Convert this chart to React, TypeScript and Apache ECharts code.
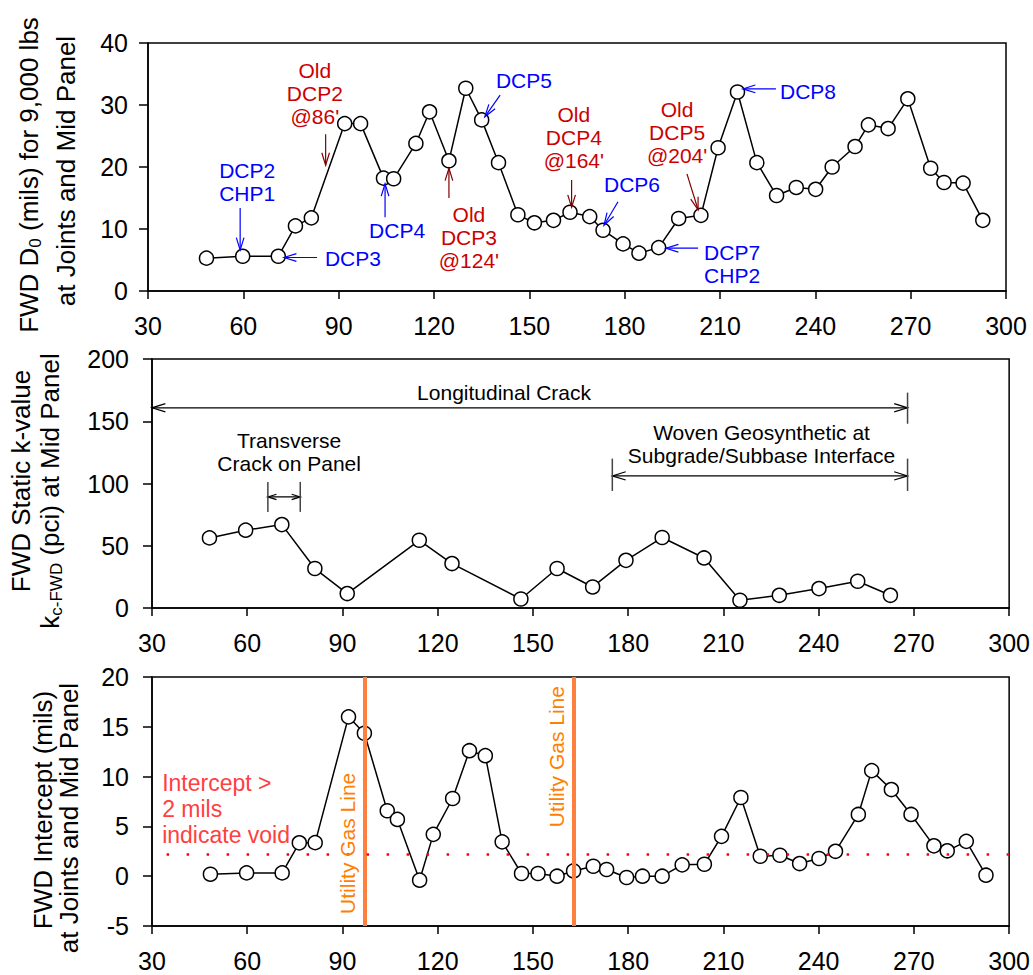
import React, { useEffect, useRef } from "react";
import * as echarts from "echarts";

const FONT = 'Arial, "Liberation Sans", sans-serif';
const RED = "#cc0000";
const DARKRED = "#800000";
const BLUE = "#0000ff";
const ORANGE_LINE = "#ff7f3f";
const ORANGE_TEXT = "#ff8000";
const VOID_RED = "#ff4040";

// Stations (ft) for D0 and intercept panels
const stations = [48.4, 59.8, 71, 76.4, 81.4, 91.9, 96.9, 104.1, 107.3, 114.3, 118.6, 124.7, 130, 135, 140.3, 146.4, 151.6, 157.6, 162.8, 169, 173.2, 179.5, 184.5, 190.7, 197, 204, 209.4, 215.5, 221.6, 227.8, 234, 240.1, 245.3, 252.5, 256.7, 262.9, 269.1, 276.3, 280.5, 286.5, 292.7];
const d0Values = [5.3, 5.6, 5.6, 10.5, 11.8, 27.0, 27.0, 18.2, 18.1, 23.8, 28.9, 21.0, 32.7, 27.6, 20.7, 12.3, 11.0, 11.4, 12.7, 12.0, 9.8, 7.6, 6.1, 7.0, 11.7, 12.2, 23.1, 32.1, 20.7, 15.4, 16.7, 16.4, 20.0, 23.3, 26.8, 26.2, 31.0, 19.8, 17.5, 17.4, 11.4];
const interceptValues = [0.2, 0.33, 0.33, 3.35, 3.37, 16.0, 14.35, 6.57, 5.7, -0.4, 4.2, 7.8, 12.6, 12.1, 3.45, 0.27, 0.27, 0.0, 0.53, 1.0, 0.67, -0.13, 0.0, 0.0, 1.14, 1.2, 4.0, 7.9, 2.0, 2.1, 1.27, 1.78, 2.5, 6.2, 10.6, 8.7, 6.2, 3.05, 2.55, 3.5, 0.1];

// Mid-panel stations and k-values
const kStations = [48.1, 59.5, 70.9, 81.3, 91.5, 114.2, 124.5, 146.2, 157.6, 168.8, 179.3, 190.7, 203.9, 215.2, 227.6, 240.1, 252.3, 262.6];
const kValues = [56.3, 62.5, 67.0, 31.7, 11.6, 54.4, 35.7, 7.2, 31.7, 16.9, 38.3, 56.6, 40.2, 6.2, 10.2, 15.6, 21.5, 10.2];

// Axis ranges
const xRange = [30, 300, 30];
const d0Range = [0, 40, 10];
const kRange = [0, 200, 50];
const interceptRange = [-5, 20, 5];

// Reference features (bottom panel)
const gasLines = [97, 163];
const voidThreshold = 2.2;

// Annotations (data coordinates)
const topTexts = [
  { text: "Old\nDCP2\n@86'", x: 82.5, y: 31.9, color: RED },
  { text: "DCP2\nCHP1", x: 61.2, y: 17.6, color: BLUE },
  { text: "DCP3", x: 94.5, y: 5.2, color: BLUE },
  { text: "DCP4", x: 108.4, y: 9.7, color: BLUE },
  { text: "Old\nDCP3\n@124'", x: 131, y: 8.7, color: RED },
  { text: "DCP5", x: 148.3, y: 34.0, color: BLUE },
  { text: "Old\nDCP4\n@164'", x: 164.0, y: 24.8, color: RED },
  { text: "DCP6", x: 182.3, y: 17.1, color: BLUE },
  { text: "Old\nDCP5\n@204'", x: 196.5, y: 25.6, color: RED },
  { text: "DCP7\nCHP2", x: 213.8, y: 4.4, color: BLUE },
  { text: "DCP8", x: 237.7, y: 32.1, color: BLUE },
];
const topArrows = [
  { x1: 85.9, y1: 25.3, x2: 85.9, y2: 20.3, color: DARKRED },
  { x1: 59.0, y1: 13.4, x2: 59.0, y2: 6.6, color: BLUE },
  { x1: 83.2, y1: 5.4, x2: 72.8, y2: 5.4, color: BLUE },
  { x1: 104.6, y1: 11.9, x2: 104.6, y2: 17.3, color: BLUE },
  { x1: 124.7, y1: 15.0, x2: 124.7, y2: 19.8, color: DARKRED },
  { x1: 140.8, y1: 31.6, x2: 136.0, y2: 28.1, color: BLUE },
  { x1: 163.3, y1: 17.9, x2: 163.3, y2: 13.5, color: DARKRED },
  { x1: 177.9, y1: 14.4, x2: 173.5, y2: 10.6, color: BLUE },
  { x1: 199.6, y1: 18.9, x2: 203.1, y2: 13.1, color: DARKRED },
  { x1: 203.1, y1: 6.9, x2: 193.0, y2: 6.9, color: BLUE },
  { x1: 227.6, y1: 32.6, x2: 217.2, y2: 32.6, color: BLUE },
];
const midTexts = [
  { text: "Longitudinal Crack", x: 140.9, y: 173.4 },
  { text: "Woven Geosynthetic at\nSubgrade/Subbase Interface", x: 222, y: 131.4 },
  { text: "Transverse\nCrack on Panel", x: 73.2, y: 125.6 },
];
const midSpans = [
  { x1: 30, x2: 268, y: 160.8, barTop: 173, barBottom: 148, bars: [268], head: 14 },
  { x1: 175, x2: 268, y: 106.1, barTop: 120, barBottom: 94, bars: [175, 268], head: 14 },
  { x1: 66.5, x2: 76.7, y: 89.2, barTop: 101.3, barBottom: 77.2, bars: [66.5, 76.7], head: 9 },
];
const bottomTexts = [
  { text: "Intercept >\n2 mils\nindicate void", x: 33.2, y: 6.74 },
];
const gasLabels = [
  { x: 91.6, y: 3.3 },
  { x: 157.3, y: 12.0 },
];

function xAxisFor(gridIndex: number) {
  return {
    type: "value",
    gridIndex,
    min: xRange[0],
    max: xRange[1],
    interval: xRange[2],
    axisLine: { onZero: false, lineStyle: { color: "#000", width: 1.5 } },
    axisTick: { inside: false, length: 8, lineStyle: { color: "#000", width: 1.5 } },
    axisLabel: { color: "#000", fontSize: 25, fontFamily: FONT, margin: 22 },
    splitLine: { show: false },
  };
}
function yAxisFor(gridIndex: number, r: number[], margin: number) {
  return {
    type: "value",
    gridIndex,
    min: r[0],
    max: r[1],
    interval: r[2],
    axisLine: { onZero: false, lineStyle: { color: "#000", width: 1.5 } },
    axisTick: { inside: false, length: 9, lineStyle: { color: "#000", width: 1.5 } },
    axisLabel: { color: "#000", fontSize: 25, fontFamily: FONT, margin },
    splitLine: { show: false },
  };
}
function lineSeries(i: number, xs: number[], ys: number[], extra: any = {}) {
  return {
    type: "line",
    xAxisIndex: i,
    yAxisIndex: i,
    data: xs.map((x, k) => [x, ys[k]]),
    symbol: "circle",
    symbolSize: 14,
    showSymbol: true,
    lineStyle: { color: "#000", width: 1.5 },
    itemStyle: { color: "#fff", borderColor: "#000", borderWidth: 1.5 },
    silent: true,
    z: 3,
    ...extra,
  };
}

export default function App() {
  const ref = useRef<HTMLDivElement>(null);
  useEffect(() => {
    document.body.style.margin = "0";
    const chart = echarts.init(ref.current!, null, { renderer: "svg" });
    const gridStyle = { show: true, borderColor: "#000", borderWidth: 1.5, containLabel: false };
    const option: any = {
      animation: false,
      backgroundColor: "#fff",
      grid: [
        { ...gridStyle, left: 148, top: 43, width: 858, height: 248 },
        { ...gridStyle, left: 152, top: 359, width: 858, height: 249 },
        { ...gridStyle, left: 152, top: 677, width: 860, height: 249 },
      ],
      xAxis: [xAxisFor(0), xAxisFor(1), xAxisFor(2)],
      yAxis: [yAxisFor(0, d0Range, 20), yAxisFor(1, kRange, 23), yAxisFor(2, interceptRange, 23)],
      series: [
        lineSeries(0, stations, d0Values),
        lineSeries(1, kStations, kValues),
        lineSeries(2, stations, interceptValues, {
          markLine: {
            silent: true,
            symbol: ["none", "none"],
            label: { show: false },
            animation: false,
            z: 4,
            data: [
              ...gasLines.map((g) => ({ xAxis: g, lineStyle: { color: ORANGE_LINE, width: 4, type: "solid" } })),
              [
                { coord: [34.6, voidThreshold], lineStyle: { color: "#ff0000", width: 2.5, type: [2.5, 17.5] } },
                { coord: [xRange[1], voidThreshold] },
              ],
            ],
          },
        }),
      ],
    };
    chart.setOption(option);

    const px = (g: number, x: number, y: number) => chart.convertToPixel({ gridIndex: g } as any, [x, y]) as number[];
    const els: any[] = [];
    const arrowHead = (tip: number[], from: number[], color: string, len: number, spread: number, w: number) => {
      const a = Math.atan2(tip[1] - from[1], tip[0] - from[0]);
      els.push({
        type: "polyline",
        silent: true,
        shape: {
          points: [
            [tip[0] - len * Math.cos(a - spread), tip[1] - len * Math.sin(a - spread)],
            tip,
            [tip[0] - len * Math.cos(a + spread), tip[1] - len * Math.sin(a + spread)],
          ],
        },
        style: { stroke: color, lineWidth: w, fill: null },
        z: 10,
      });
    };

    topArrows.forEach((a) => {
      const p1 = px(0, a.x1, a.y1);
      const p2 = px(0, a.x2, a.y2);
      els.push({ type: "line", silent: true, shape: { x1: p1[0], y1: p1[1], x2: p2[0], y2: p2[1] }, style: { stroke: a.color, lineWidth: 1.2 }, z: 10 });
      arrowHead(p2, p1, a.color, 13, 0.3, 1.2);
    });
    topTexts.forEach((t) => {
      const p = px(0, t.x, t.y);
      els.push({
        type: "text", silent: true, x: p[0], y: p[1], z: 10,
        style: { text: t.text, fill: t.color, fontSize: 21, fontFamily: FONT, lineHeight: 23, align: "center", verticalAlign: "middle" },
      });
    });

    midSpans.forEach((s) => {
      const p1 = px(1, s.x1, s.y);
      const p2 = px(1, s.x2, s.y);
      els.push({ type: "line", silent: true, shape: { x1: p1[0], y1: p1[1], x2: p2[0], y2: p2[1] }, style: { stroke: "#000", lineWidth: 1.2 }, z: 10 });
      arrowHead(p2, p1, "#000", s.head, 0.3, 1.2);
      arrowHead(p1, p2, "#000", s.head, 0.3, 1.2);
      s.bars.forEach((b) => {
        const q1 = px(1, b, s.barTop);
        const q2 = px(1, b, s.barBottom);
        els.push({ type: "line", silent: true, shape: { x1: q1[0], y1: q1[1], x2: q2[0], y2: q2[1] }, style: { stroke: "#444", lineWidth: 1.5 }, z: 10 });
      });
    });
    midTexts.forEach((t) => {
      const p = px(1, t.x, t.y);
      els.push({
        type: "text", silent: true, x: p[0], y: p[1], z: 10,
        style: { text: t.text, fill: "#000", fontSize: 21, fontFamily: FONT, lineHeight: 23, align: "center", verticalAlign: "middle" },
      });
    });

    bottomTexts.forEach((t) => {
      const p = px(2, t.x, t.y);
      els.push({
        type: "text", silent: true, x: p[0], y: p[1], z: 10,
        style: { text: t.text, fill: VOID_RED, fontSize: 23, fontFamily: FONT, lineHeight: 26, align: "left", verticalAlign: "middle" },
      });
    });
    gasLabels.forEach((t) => {
      const p = px(2, t.x, t.y);
      els.push({
        type: "text", silent: true, x: p[0], y: p[1], rotation: Math.PI / 2, z: 10,
        style: { text: "Utility Gas Line", fill: ORANGE_TEXT, fontSize: 21, fontFamily: FONT, align: "center", verticalAlign: "middle" },
      });
    });

    // Y axis titles
    const rich = {
      a: { fontSize: 26, fontFamily: FONT, lineHeight: 30, fill: "#000" },
      s: { fontSize: 17, fontFamily: FONT, lineHeight: 12, verticalAlign: "bottom", fill: "#000" },
    };
    const titles = [
      { text: "{a|FWD D}{s|0}{a| (mils) for 9,000 lbs}", x: 29, y: 175 },
      { text: "{a|at Joints and Mid Panel}", x: 66, y: 171 },
      { text: "{a|FWD Static k-value}", x: 21, y: 481 },
      { text: "{a|k}{s|c-FWD}{a| (pci) at Mid Panel}", x: 50, y: 491 },
      { text: "{a|FWD Intercept (mils)}", x: 43, y: 810 },
      { text: "{a|at Joints and Mid Panel}", x: 69, y: 818 },
    ];
    titles.forEach((t) => {
      els.push({
        type: "text", silent: true, x: t.x, y: t.y, rotation: Math.PI / 2, z: 10,
        style: { text: t.text, rich, fill: "#000", fontSize: 26, fontFamily: FONT, align: "center", verticalAlign: "middle" },
      });
    });

    chart.setOption({ graphic: { elements: els } });
    return () => chart.dispose();
  }, []);
  return <div ref={ref} style={{ width: 1033, height: 975 }} />;
}
